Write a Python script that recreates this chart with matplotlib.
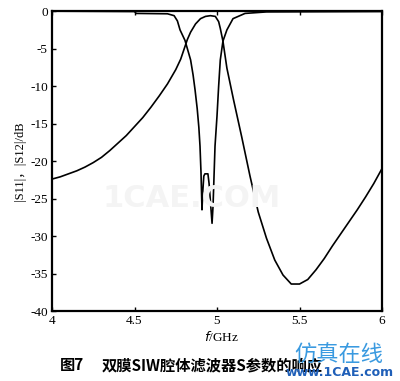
import matplotlib.pyplot as plt

# |S12| curve (smooth, broad)
s12_f = [4.0, 4.05, 4.1, 4.15, 4.2, 4.25, 4.3, 4.35, 4.4, 4.45, 4.5, 4.55, 4.6, 4.65, 4.7,
         4.75, 4.78, 4.8, 4.82, 4.84, 4.87, 4.9, 4.93, 4.96, 4.99, 5.01, 5.02, 5.036, 5.06,
         5.1, 5.15, 5.2, 5.25, 5.3, 5.35, 5.4, 5.45, 5.5, 5.55, 5.6, 5.65, 5.7, 5.75, 5.8,
         5.85, 5.9, 5.95, 6.0]
s12_db = [-22.4, -22.1, -21.7, -21.3, -20.8, -20.2, -19.5, -18.6, -17.6, -16.6, -15.4, -14.2,
          -12.8, -11.3, -9.7, -7.8, -6.4, -5.1, -3.8, -2.8, -1.7, -1.0, -0.7, -0.6, -0.7,
          -1.4, -2.3, -4.0, -7.6, -11.8, -16.8, -22.0, -26.8, -30.3, -33.2, -35.2, -36.4,
          -36.4, -35.8, -34.5, -33.0, -31.3, -29.7, -28.1, -26.5, -24.8, -23.0, -21.0]

# |S11| curve (passband with two notches)
s11_f = [4.0, 4.5, 4.51, 4.7, 4.74, 4.76, 4.776, 4.806, 4.84, 4.855, 4.867, 4.88, 4.89, 4.897,
         4.903, 4.909, 4.914, 4.92, 4.927, 4.945, 4.952, 4.97, 4.976, 4.988, 5.0, 5.01, 5.02,
         5.036, 5.06, 5.097, 5.17, 5.3, 6.0]
s11_db = [0.0, -0.05, -0.3, -0.35, -0.6, -1.3, -2.5, -3.9, -6.5, -8.5, -10.5, -13.0, -15.5, -18.0,
          -21.5, -26.5, -24.0, -22.0, -21.7, -21.7, -23.0, -28.3, -26.0, -18.0, -14.0, -10.0,
          -6.5, -4.0, -2.5, -1.0, -0.3, -0.1, -0.05]

xticks = [4, 4.5, 5, 5.5, 6]
xticklabels = ['4', '4.5', '5', '5.5', '6']
yticks = [0, -5, -10, -15, -20, -25, -30, -35, -40]

serif = ['Liberation Serif', 'DejaVu Serif']
cjk = ['Noto Sans CJK SC', 'DejaVu Sans']

fig = plt.figure(figsize=(4.0, 3.81), dpi=100)
ax = fig.add_axes([0.13, 0.1837, 0.825, 0.787])

ax.plot(s12_f, s12_db, color='black', lw=1.2)
ax.plot(s11_f, s11_db, color='black', lw=1.2)

ax.set_xlim(4, 6)
ax.set_ylim(-40, 0)
ax.set_xticks(xticks)
ax.set_xticklabels(xticklabels, family=serif, fontsize=9.5)
ax.set_yticks(yticks)
ax.set_yticklabels([str(v) for v in yticks], family=serif, fontsize=9.5)
ax.tick_params(direction='in', length=3, width=1, top=True, right=False, pad=3)
for s in ax.spines.values():
    s.set_linewidth(1.6)

ax.set_ylabel('|S11|，|S12|/dB', family=serif + cjk, fontsize=9, labelpad=3)
fig.text(0.555, 0.115, '$f$/GHz', family=serif, fontsize=9.5, ha='center', va='center')

# caption
fig.text(0.15, 0.042, '图7', family=cjk, fontsize=11, fontweight='bold', va='center')
fig.text(0.255, 0.042, '双膜SIW腔体滤波器S参数的响应', family=cjk, fontsize=11,
         fontweight='bold', va='center')

# watermarks
fig.text(0.48, 0.48, '1CAE.COM', family=['DejaVu Sans'], fontsize=22, fontweight='bold',
         color='#f4f4f4', ha='center', va='center', zorder=0)
fig.text(0.846, 0.068, '仿真在线', family=cjk, fontsize=16, color='#3a9ae0',
         ha='center', va='center')
fig.text(0.85, 0.023, 'www.1CAE.com', family=['DejaVu Sans'], fontsize=9, fontweight='bold',
         color='#1f5fb8', ha='center', va='center')

fig.savefig('out.png', dpi=100)
